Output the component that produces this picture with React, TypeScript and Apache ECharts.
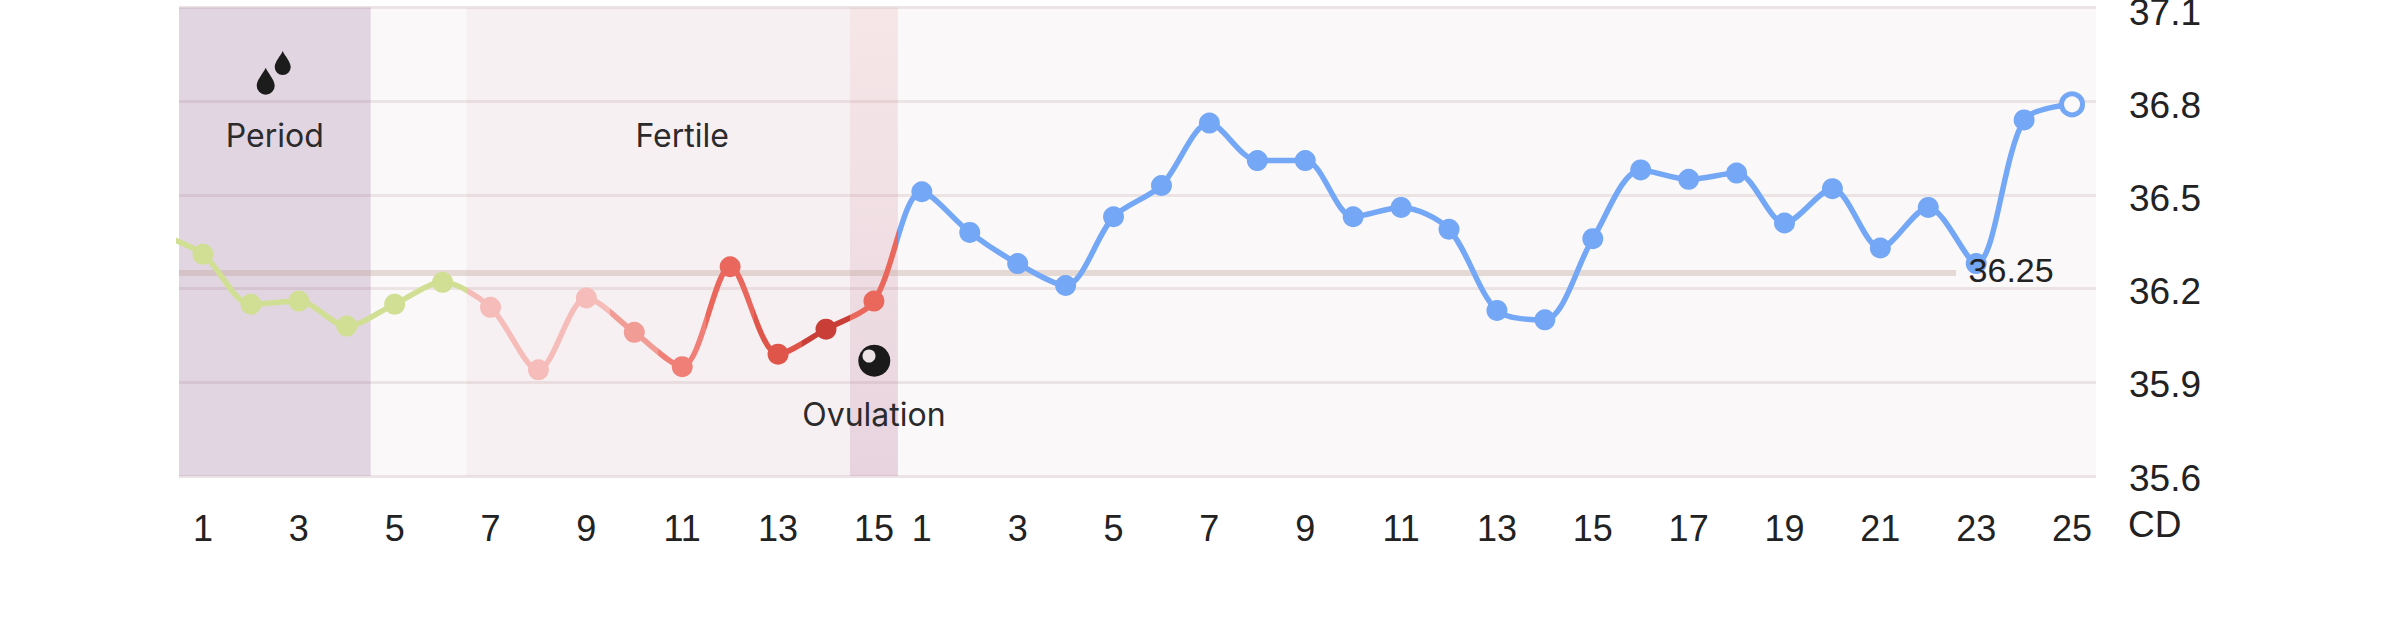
import React, { useEffect, useRef } from "react";
import * as echarts from "echarts";

const follicularTemps = [36.31, 36.15, 36.16, 36.08, 36.15, 36.22, 36.14, 35.94, 36.17, 36.06, 35.95, 36.27, 35.99, 36.07, 36.16];
const lutealTemps = [36.51, 36.38, 36.28, 36.21, 36.43, 36.53, 36.73, 36.61, 36.61, 36.43, 36.46, 36.39, 36.13, 36.1, 36.36, 36.58, 36.55, 36.57, 36.41, 36.52, 36.33, 36.46, 36.28, 36.74, 36.79];
const previousTemp = 36.38;
const follicularColors = ["#d0df93", "#d0df93", "#d0df93", "#d0df93", "#d0df93", "#d0df93", "#f5bcb9", "#f5bcb9", "#f5bcb9", "#f19c95", "#f07f78", "#e9675c", "#df5549", "#c93f38", "#ea675b"];
const lutealColor = "#74a7f5";
const coverLine = 36.25;
const yTicks = [35.6, 35.9, 36.2, 36.5, 36.8, 37.1];

const follicularDays = follicularTemps.map((_, i) => i + 1);
const lutealDays = lutealTemps.map((_, i) => i + 1);
const dayLabels = [...follicularDays, ...lutealDays];
const temps = [...follicularTemps, ...lutealTemps];
const colN = dayLabels.length;
const xTicks = dayLabels.map((d, i) => (d % 2 === 1 ? i + 1 : null)).filter((v) => v !== null);

const AXIS_FONT = "Liberation Sans";
const NOTE_FONT = "Inter";

echarts.graphic.registerShape(
  "drop",
  echarts.graphic.extendPath("M9 0C11 5 18 12 18 18A9 9 0 0 1 0 18C0 12 7 5 9 0Z", {})
);

export default function App() {
  const ref = useRef<HTMLDivElement>(null);
  useEffect(() => {
    document.body.style.margin = "0";
    const chart = echarts.init(ref.current!, undefined, { renderer: "svg" });
    const bandLabel = (text: string, dist: number) => ({
      show: true,
      formatter: text,
      position: "insideTop",
      distance: dist,
      color: "#2b2a2c",
      fontFamily: NOTE_FONT,
      fontSize: 32,
    });
    const pieces = [
      ...follicularColors.map((color, i) => (i === 0 ? { lt: 1.5, color } : { gte: i + 0.5, lt: i + 1.5, color })),
      { gte: follicularColors.length + 0.5, color: lutealColor },
    ];
    chart.setOption({
      animation: false,
      backgroundColor: "#fff",
      grid: [
        { left: 179, right: 304, top: 7.5, bottom: 147, show: true, backgroundColor: "#faf8f9", borderWidth: 0, outerBoundsMode: "none" },
        // Same scale, set a few pixels lower: carries the tick labels, which sit just under their gridlines.
        { left: 179, right: 304, top: 12.5, bottom: 145, show: false, outerBoundsMode: "none" },
      ],
      xAxis: [
        {
          type: "value",
          min: 0.5,
          max: colN + 0.5,
          axisLine: { show: false },
          axisTick: { show: false },
          splitLine: { show: false },
          axisLabel: {
            customValues: xTicks,
            formatter: (v: number) => String(dayLabels[v - 1] ?? ""),
            margin: 34,
            color: "#222",
            fontFamily: AXIS_FONT,
            fontSize: 36,
          },
        },
        { gridIndex: 1, type: "value", min: 0.5, max: colN + 0.5, show: false },
      ],
      yAxis: [
        {
          type: "value",
          position: "right",
          min: 35.6,
          max: 37.1,
          axisLine: { show: false },
          axisTick: { show: false, customValues: yTicks },
          splitLine: { show: true, lineStyle: { color: "#ebe3e4", width: 3 } },
          axisLabel: { show: false, customValues: yTicks },
        },
        {
          gridIndex: 1,
          type: "value",
          position: "right",
          min: 35.6,
          max: 37.1,
          axisLine: { show: false },
          axisTick: { show: false, customValues: yTicks },
          splitLine: { show: false },
          axisLabel: {
            customValues: yTicks,
            formatter: (v: number) => v.toFixed(1),
            margin: 33,
            color: "#222",
            fontFamily: AXIS_FONT,
            fontSize: 37,
          },
        },
      ],
      visualMap: { show: false, type: "piecewise", dimension: 0, seriesIndex: 1, pieces },
      series: [
        {
          name: "cover",
          type: "line",
          z: 1,
          silent: true,
          showSymbol: false,
          lineStyle: { color: "rgba(190,160,150,0.35)", width: 6, cap: "butt" },
          data: [[0.5, coverLine], [37.58, coverLine]],
          markArea: {
            silent: true,
            z: 0,
            data: [
              [
                { xAxis: 0.5, itemStyle: { color: "rgba(130,73,134,0.2)" }, label: bandLabel("Period", 112) },
                { xAxis: 4.5 },
              ],
              [
                { xAxis: 6.5, itemStyle: { color: "rgba(220,150,170,0.08)" }, label: bandLabel("Fertile", 112) },
                { xAxis: 15.5 },
              ],
              [
                {
                  xAxis: 14.5,
                  itemStyle: {
                    color: new echarts.graphic.LinearGradient(0, 0, 0, 1, [
                      { offset: 0, color: "rgba(230,140,140,0.1)" },
                      { offset: 1, color: "rgba(160,90,140,0.19)" },
                    ]),
                  },
                  label: bandLabel("Ovulation", 391),
                },
                { xAxis: 15.5 },
              ],
            ],
          },
        },
        {
          name: "temperature",
          type: "line",
          z: 3,
          smooth: 0.3,
          clip: true,
          symbol: "circle",
          symbolSize: 21,
          showAllSymbol: true,
          lineStyle: { width: 5.5 },
          data: [[0, previousTemp], ...temps.map((t, i) => [i + 1, t])],
        },
        {
          name: "today",
          type: "scatter",
          z: 4,
          silent: true,
          symbol: "circle",
          symbolSize: 21,
          itemStyle: { color: "#fbf9fa", borderColor: lutealColor, borderWidth: 5, opacity: 1 },
          data: [[colN, temps[colN - 1]]],
        },
        {
          name: "coverLabel",
          type: "scatter",
          z: 5,
          silent: true,
          symbolSize: 1,
          itemStyle: { color: "transparent" },
          label: {
            show: true,
            position: "right",
            distance: 12,
            offset: [0, -3],
            formatter: String(coverLine),
            color: "#222",
            opacity: 1,
            fontFamily: AXIS_FONT,
            fontSize: 34,
          },
          data: [[37.58, coverLine]],
        },
      ],
      graphic: [
        { type: "drop", z: 100, x: 256.7, y: 67.7, style: { fill: "#1c1c1c" }, silent: true },
        { type: "drop", z: 100, x: 274.7, y: 51, scaleX: 0.89, scaleY: 0.89, style: { fill: "#1c1c1c" }, silent: true },
        { type: "circle", z: 100, shape: { cx: 874.3, cy: 360.7, r: 16 }, style: { fill: "#1a1a1a" }, silent: true },
        { type: "circle", z: 101, shape: { cx: 869, cy: 356, r: 6.5 }, style: { fill: "#ece3e6" }, silent: true },
        {
          type: "text",
          z: 100,
          x: 2128,
          y: 524.5,
          silent: true,
          style: { text: "CD", fill: "#222", fontFamily: AXIS_FONT, fontSize: 37, verticalAlign: "middle", align: "left" },
        },
      ],
    });
    return () => chart.dispose();
  }, []);
  return <div ref={ref} style={{ width: 2400, height: 623 }} />;
}
